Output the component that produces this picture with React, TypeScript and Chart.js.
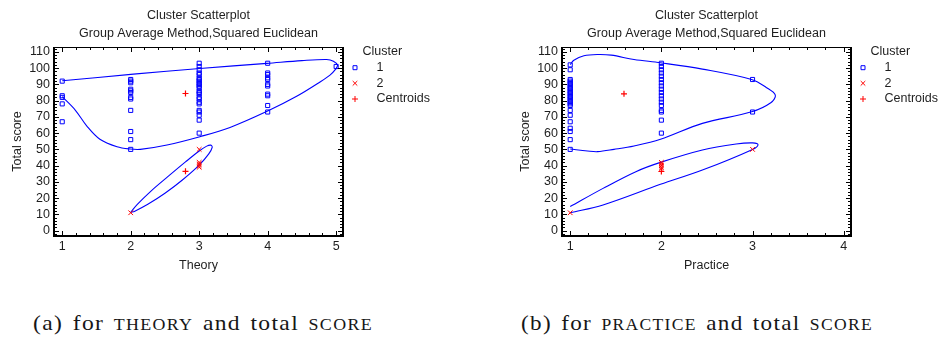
import React, { useEffect, useLayoutEffect, useRef } from "react";
import { Chart, registerables } from "chart.js";

Chart.register(...registerables);

// ---------- text ----------
const CHART_TITLE = "Cluster Scatterplot";
const CHART_SUBTITLE = "Group Average Method,Squared Euclidean";
const Y_TITLE = "Total score";
const LEGEND_TITLE = "Cluster";
const SERIES_LABELS = ["1", "2", "Centroids"];

// ---------- ticks ----------
const yTicks = [0, 10, 20, 30, 40, 50, 60, 70, 80, 90, 100, 110];
const theoryTicks = [1, 2, 3, 4, 5];
const practiceTicks = [1, 2, 3, 4];

// ---------- (a) Theory vs total score ----------
const theoryCluster1: [number, number[]][] = [
  [1, [92, 83, 82, 78, 67]],
  [2, [93, 92, 91, 87, 86, 85, 82, 81, 74, 61, 56, 50]],
  [3, [103, 101, 99, 97, 96, 94, 93, 92, 91, 90, 89, 88, 86, 85, 84, 82, 81, 79, 78, 74, 73, 71, 68, 60]],
  [4, [103, 97, 96, 94, 93, 90, 89, 84, 83, 77, 73]],
  [5, [101]],
];
const theoryCluster2: [number, number[]][] = [
  [2, [11]],
  [3, [50, 42, 41, 40, 39]],
];
const theoryCentroids: [number, number][] = [
  [2.8, 84.4],
  [2.8, 36.5],
];
const theoryEllipse1: [number, number][] = [
  [1, 92.2], [2.04, 96.3], [3.01, 99.8], [3.99, 102.9], [4.5, 104.6], [4.86, 105.3],
  [4.96, 104.3], [5.02, 101.8], [4.99, 99.2], [4.91, 95.7], [4.77, 91.6], [4.43, 82.8],
  [4, 73.6], [3.45, 63.5], [3.01, 57.8], [2.53, 52.7], [2.14, 50], [1.99, 50.2],
  [1.8, 51.6], [1.55, 56.2], [1.36, 64.3], [1.19, 74.2], [1, 82.4],
];
const theoryEllipse2: [number, number][] = [
  [2, 11.3], [2.1, 16.3], [2.3, 24.5], [2.55, 33.5], [2.8, 42.3], [3.0, 49],
  [3.11, 52], [3.17, 52.6], [3.19, 51.2], [3.14, 47.2], [3.0, 40.3], [2.75, 31],
  [2.5, 23], [2.25, 16.2], [2.06, 12], [2, 11.3],
];

// ---------- (b) Practice vs total score ----------
const practiceCluster1: [number, number[]][] = [
  [1, [102, 99, 93, 92, 91, 90, 89, 88, 87, 86, 85, 84, 83, 82, 81, 80, 79, 78, 77, 74, 71, 67, 63, 61, 56, 50]],
  [2, [103, 101, 99, 97, 95, 93, 91, 89, 87, 85, 83, 81, 79, 77, 74, 73, 68, 60]],
  [3, [93, 73]],
];
const practiceCluster2: [number, number[]][] = [
  [1, [11]],
  [2, [42, 41, 40, 39, 38]],
  [3, [50]],
];
const practiceCentroids: [number, number][] = [
  [1.59, 84.2],
  [2.0, 36.4],
];
const practiceEllipse1: [number, number][] = [
  [1, 102.2], [1.04, 104.9], [1.15, 107.6], [1.3, 108.4], [1.45, 108], [1.7, 105.3],
  [1.99, 103.3], [2.45, 99.4], [2.99, 93], [3.15, 88.1], [3.25, 83.4], [3.2, 78.7],
  [2.99, 73.1], [2.45, 66], [1.99, 56.2], [1.7, 52.1], [1.48, 50], [1.3, 48.6],
  [1.19, 49], [1, 50.2],
];
const practiceEllipse2: [number, number][] = [
  [1, 14.8], [1.36, 26], [1.72, 36.3], [1.99, 42], [2.45, 49.6], [2.82, 53.3],
  [3.0, 54], [3.06, 52.9], [3.0, 50], [2.45, 37.3], [1.99, 28.5], [1.36, 15.8], [1, 11],
];

// ---------- styling ----------
const BLUE = "rgb(0,0,255)";
const RED = "rgb(255,0,0)";
const TEXT = "#1e1e1e";
const SANS = '"Liberation Sans", Arial, sans-serif';
const FONT = { family: SANS, size: 12.5, weight: "normal" as const, lineHeight: 1.2 };

const colPoints = (cols: [number, number[]][]) =>
  cols.flatMap(([x, ys]) => ys.map((y) => ({ x, y })));
const pairPoints = (pairs: [number, number][]) => pairs.map(([x, y]) => ({ x, y }));

const framePlugin = {
  id: "frame",
  afterDatasetsDraw(chart: any, _a: any, opts: any) {
    const { ctx, chartArea } = chart;
    const { left, right, top, bottom } = chartArea;
    const xs = chart.scales.x;
    const ys = chart.scales.y;
    ctx.save();
    ctx.strokeStyle = "#000";
    ctx.lineWidth = 1;
    ctx.beginPath();
    const iter = (scale: any, minor: number, major: number, fn: (p: number, len: number) => void) => {
      const i0 = Math.ceil(scale.min / minor - 1e-9);
      const i1 = Math.floor(scale.max / minor + 1e-9);
      for (let i = i0; i <= i1; i++) {
        const v = i * minor;
        const isMajor = Math.abs(v / major - Math.round(v / major)) < 1e-6;
        fn(scale.getPixelForValue(v), isMajor ? opts.majorLen : opts.minorLen);
      }
    };
    iter(xs, opts.xMinor, opts.xMajor, (p, len) => {
      const px = Math.round(p) + 0.5;
      ctx.moveTo(px, bottom);
      ctx.lineTo(px, bottom - len);
      ctx.moveTo(px, top);
      ctx.lineTo(px, top + len);
    });
    iter(ys, opts.yMinor, opts.yMajor, (p, len) => {
      const py = Math.round(p) + 0.5;
      ctx.moveTo(left, py);
      ctx.lineTo(left + len, py);
      ctx.moveTo(right, py);
      ctx.lineTo(right - len, py);
    });
    ctx.stroke();
    ctx.lineWidth = 2;
    ctx.beginPath();
    ctx.moveTo(left, top);
    ctx.lineTo(left, bottom);
    ctx.lineTo(right, bottom);
    ctx.lineTo(right, top);
    ctx.stroke();
    ctx.lineWidth = 1;
    ctx.beginPath();
    ctx.moveTo(left, Math.round(top) + 0.5);
    ctx.lineTo(right, Math.round(top) + 0.5);
    ctx.stroke();
    ctx.restore();
  },
};

const legendPlugin = {
  id: "sideLegend",
  afterDraw(chart: any, _a: any, opts: any) {
    const { ctx, chartArea } = chart;
    const { right, top } = chartArea;
    ctx.save();
    ctx.font = `${FONT.size}px ${SANS}`;
    ctx.fillStyle = TEXT;
    ctx.textBaseline = "middle";
    ctx.textAlign = "left";
    ctx.fillText(opts.title, right + 19.5, top + 5);
    const rows = [20.7, 36.3, 52];
    chart.data.datasets.slice(0, 3).forEach((ds: any, i: number) => {
      const cx = right + 12;
      const cy = top + rows[i];
      ctx.strokeStyle = ds.borderColor;
      ctx.lineWidth = 1;
      ctx.beginPath();
      if (ds.pointStyle === "rect") {
        ctx.rect(cx - 2, cy - 2, 4, 4);
      } else if (ds.pointStyle === "crossRot") {
        ctx.moveTo(cx - 2.3, cy - 2.3);
        ctx.lineTo(cx + 2.3, cy + 2.3);
        ctx.moveTo(cx + 2.3, cy - 2.3);
        ctx.lineTo(cx - 2.3, cy + 2.3);
      } else {
        ctx.moveTo(cx - 3, cy);
        ctx.lineTo(cx + 3, cy);
        ctx.moveTo(cx, cy - 3);
        ctx.lineTo(cx, cy + 3);
      }
      ctx.stroke();
      ctx.fillText(ds.label, right + 33.5, cy);
    });
    ctx.restore();
  },
};

type PanelProps = {
  left: number;
  width: number;
  padRight: number;
  cluster1: [number, number[]][];
  cluster2: [number, number[]][];
  centroids: [number, number][];
  ellipse1: [number, number][];
  ellipse2: [number, number][];
  xMin: number;
  xMax: number;
  xTicks: number[];
  xTitle: string;
};

function ScatterPanel(p: PanelProps) {
  const ref = useRef<HTMLCanvasElement | null>(null);
  useEffect(() => {
    if (!ref.current) return;
    const lineDs = (pairs: [number, number][]) => ({
      label: "",
      data: pairPoints(pairs),
      showLine: true,
      pointRadius: 0,
      pointHoverRadius: 0,
      borderColor: BLUE,
      backgroundColor: BLUE,
      borderWidth: 1.1,
      tension: 0.35,
      fill: false,
    });
    const chart = new Chart(ref.current, {
      type: "scatter",
      data: {
        datasets: [
          {
            label: SERIES_LABELS[0],
            data: colPoints(p.cluster1),
            pointStyle: "rect",
            pointRadius: 2.9,
            borderColor: BLUE,
            backgroundColor: "rgba(0,0,0,0)",
            borderWidth: 1,
          },
          {
            label: SERIES_LABELS[1],
            data: colPoints(p.cluster2),
            pointStyle: "crossRot",
            pointRadius: 3.3,
            borderColor: RED,
            backgroundColor: RED,
            borderWidth: 1,
          },
          {
            label: SERIES_LABELS[2],
            data: pairPoints(p.centroids),
            pointStyle: "cross",
            pointRadius: 3,
            borderColor: RED,
            backgroundColor: RED,
            pointBorderColor: RED,
            borderWidth: 1.2,
          },
          lineDs(p.ellipse1),
          lineDs(p.ellipse2),
        ] as any,
      },
      options: {
        animation: false,
        responsive: false,
        events: [],
        layout: { padding: { left: 0, right: p.padRight, top: 0, bottom: 9 } },
        plugins: {
          legend: { display: false },
          tooltip: { enabled: false },
          title: {
            display: true,
            text: CHART_TITLE,
            fullSize: false,
            color: TEXT,
            font: FONT,
            padding: { top: 8, bottom: 0 },
          },
          subtitle: {
            display: true,
            text: CHART_SUBTITLE,
            fullSize: false,
            color: TEXT,
            font: FONT,
            padding: { top: 3.5, bottom: 5.5 },
          },
          frame: { xMinor: 0.2, xMajor: 1, yMinor: 2, yMajor: 10, majorLen: 5, minorLen: 3 },
          sideLegend: { title: LEGEND_TITLE },
        } as any,
        scales: {
          x: {
            type: "linear",
            min: p.xMin,
            max: p.xMax,
            afterBuildTicks: (s: any) => {
              s.ticks = p.xTicks.map((v) => ({ value: v }));
            },
            afterFit: (s: any) => {
              s.height = 40;
            },
            grid: { display: false, drawTicks: false },
            border: { display: false },
            ticks: { font: FONT, color: TEXT, padding: 3, autoSkip: false, maxRotation: 0 },
            title: {
              display: true,
              text: p.xTitle,
              font: FONT,
              color: TEXT,
              padding: { top: 0, bottom: 2.5 },
            },
          },
          y: {
            type: "linear",
            min: -3.3,
            max: 113,
            afterBuildTicks: (s: any) => {
              s.ticks = yTicks.map((v) => ({ value: v }));
            },
            afterFit: (s: any) => {
              s.width = 54;
            },
            grid: { display: false, drawTicks: false },
            border: { display: false },
            ticks: { font: FONT, color: TEXT, padding: 4, autoSkip: false },
            title: {
              display: true,
              text: Y_TITLE,
              font: FONT,
              color: TEXT,
              padding: { top: 10.5, bottom: 0 },
            },
          },
        },
      } as any,
      plugins: [framePlugin, legendPlugin],
    });
    return () => chart.destroy();
  }, []);
  return (
    <canvas
      ref={ref}
      width={p.width}
      height={285}
      style={{ position: "absolute", left: p.left, top: 0, width: p.width, height: 285 }}
    />
  );
}

function Caption(props: { left: number; target: number; children: React.ReactNode }) {
  const ref = useRef<HTMLSpanElement | null>(null);
  useLayoutEffect(() => {
    const el = ref.current;
    if (!el) return;
    const w = el.getBoundingClientRect().width;
    if (w > 0) el.style.transform = `scaleX(${props.target / w})`;
  }, []);
  return (
    <div
      style={{
        position: "absolute",
        left: props.left,
        top: 313,
        fontFamily: '"Liberation Serif", "Times New Roman", serif',
        fontSize: 21,
        lineHeight: "21px",
        letterSpacing: "1.2px",
        wordSpacing: "2px",
        color: "#161616",
        whiteSpace: "nowrap",
      }}
    >
      <span ref={ref} style={{ display: "inline-block", transformOrigin: "left center" }}>
        {props.children}
      </span>
    </div>
  );
}

const SC: React.CSSProperties = { fontSize: "0.76em" };

export default function App() {
  return (
    <div
      style={{
        position: "absolute",
        left: 0,
        top: 0,
        width: 941,
        height: 338,
        background: "#fff",
        overflow: "hidden",
      }}
    >
      <ScatterPanel
        left={0}
        width={470}
        padRight={127}
        cluster1={theoryCluster1}
        cluster2={theoryCluster2}
        centroids={theoryCentroids}
        ellipse1={theoryEllipse1}
        ellipse2={theoryEllipse2}
        xMin={0.88}
        xMax={5.1}
        xTicks={theoryTicks}
        xTitle="Theory"
      />
      <ScatterPanel
        left={508}
        width={433}
        padRight={90}
        cluster1={practiceCluster1}
        cluster2={practiceCluster2}
        centroids={practiceCentroids}
        ellipse1={practiceEllipse1}
        ellipse2={practiceEllipse2}
        xMin={0.91}
        xMax={4.08}
        xTicks={practiceTicks}
        xTitle="Practice"
      />
      <Caption left={33} target={340}>
        (a) for <span style={SC}>THEORY</span> and total <span style={SC}>SCORE</span>
      </Caption>
      <Caption left={521} target={352}>
        (b) for <span style={SC}>PRACTICE</span> and total <span style={SC}>SCORE</span>
      </Caption>
    </div>
  );
}
